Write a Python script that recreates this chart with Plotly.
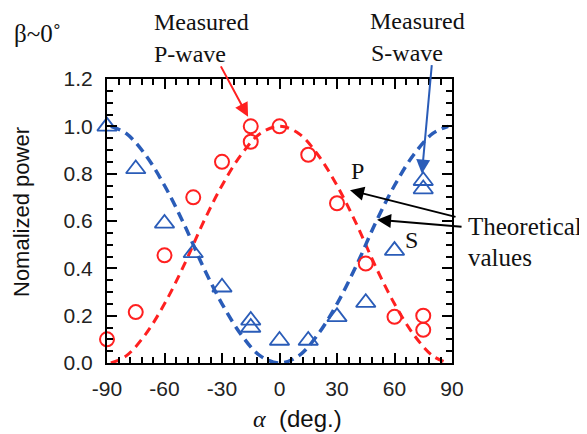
import plotly.graph_objects as go

# Measured P-wave (red circles)
p_alpha = [-90, -75, -60, -45, -30, -15, -15, 0, 15, 30, 45, 60, 75, 75]
p_power = [0.10, 0.215, 0.455, 0.70, 0.85, 1.0, 0.935, 1.0, 0.88, 0.675, 0.42, 0.195, 0.20, 0.14]

# Measured S-wave (blue triangles)
s_alpha = [-90, -75, -60, -45, -30, -15, -15, 0, 15, 30, 45, 60, 75, 75]
s_power = [1.0, 0.82, 0.59, 0.465, 0.32, 0.18, 0.15, 0.095, 0.095, 0.195, 0.255, 0.475, 0.77, 0.735]

# Theoretical curves
th_alpha = [-88, -80, -70, -60, -50, -40, -30, -20, -10, 0, 10, 20, 30, 40, 50, 60, 70, 80, 88]
th_p = [0.0, 0.03, 0.12, 0.25, 0.41, 0.59, 0.75, 0.88, 0.97, 1.0, 0.97, 0.88, 0.75, 0.59, 0.41, 0.25, 0.12, 0.03, 0.0]
th_s = [1.0, 0.97, 0.88, 0.75, 0.59, 0.41, 0.25, 0.12, 0.03, 0.0, 0.03, 0.12, 0.25, 0.41, 0.59, 0.75, 0.88, 0.97, 1.0]

x_ticks = [-90, -60, -30, 0, 30, 60, 90]
y_ticks = [0.0, 0.2, 0.4, 0.6, 0.8, 1.0, 1.2]

RED = "#ff2020"
BLUE = "#2a5cb8"
SERIF = "Liberation Serif, Times New Roman, serif"
SANS = "Liberation Sans, Arial, sans-serif"

fig = go.Figure()
fig.add_trace(go.Scatter(x=th_alpha, y=th_p, mode="lines", line=dict(color=RED, width=3, dash="9px,6px", shape="spline"),
                         showlegend=False, hoverinfo="skip"))
fig.add_trace(go.Scatter(x=th_alpha, y=th_s, mode="lines", line=dict(color=BLUE, width=3.5, dash="10px,6px", shape="spline"),
                         showlegend=False, hoverinfo="skip"))
fig.add_trace(go.Scatter(x=p_alpha, y=p_power, mode="markers",
                         marker=dict(symbol="circle-open", size=14, color=RED, line=dict(width=2, color=RED)),
                         showlegend=False, cliponaxis=False))
fig.add_trace(go.Scatter(x=s_alpha, y=s_power, mode="markers",
                         marker=dict(symbol="triangle-up-open", size=17, color=BLUE, line=dict(width=1.8, color=BLUE)),
                         showlegend=False, cliponaxis=False))

ax_common = dict(showline=True, linecolor="black", linewidth=2, mirror="ticks", ticks="inside",
                 tickcolor="black", tickwidth=2, ticklen=10, showgrid=False, zeroline=False,
                 tickfont=dict(family=SANS, size=21, color="#222"))

fig.update_xaxes(range=[-90, 90], tickvals=x_ticks, ticktext=[str(v) for v in x_ticks],
                 minor=dict(dtick=6, ticks="inside", ticklen=6, tickwidth=1.5, tickcolor="black", tick0=-90),
                 ticklabelstandoff=6, **ax_common)
fig.update_yaxes(range=[0, 1.2], tickvals=y_ticks, ticktext=[f"{v:.1f}" for v in y_ticks],
                 minor=dict(dtick=0.05, ticks="inside", ticklen=6, tickwidth=1.5, tickcolor="black", tick0=0),
                 ticklabelstandoff=8, **ax_common)

# page has an 8px body margin; positions below are in screenshot pixels
OFF = 8
def px_x(px):
    return (px - 107) / 345.0

def px_y(py):
    return (363 - py) / 284.0

ann = []
def txt(text, x, y, xanchor="left", size=24, family=SERIF, color="#111", angle=0):
    ann.append(dict(text=text, x=px_x(x), y=px_y(y), xref="paper", yref="paper", xanchor=xanchor,
                    yanchor="middle", showarrow=False, textangle=angle,
                    font=dict(family=family, size=size, color=color)))

txt("β~0˚", 37, 33, xanchor="center", size=25)
txt("Measured", 152, 22)
txt("P-wave", 152, 54)
txt("Measured", 368, 21)
txt("S-wave", 369, 53)
txt("P", 357, 171, xanchor="center", size=24)
txt("S", 411, 240, xanchor="center", size=24)
txt("Theoretical", 466, 226, size=25)
txt("values", 466, 257, size=25)
txt("<span style='font-family:Liberation Serif;font-style:italic'>α</span>  (deg.)", 297, 418,
    xanchor="center", size=24, family=SANS)
txt("Nomalized power", 21, 212, xanchor="center", size=22, family=SANS, angle=-90)

def arrow(hx, hy, tx, ty, color, width=2):
    ann.append(dict(x=hx, y=hy, xref="x", yref="y", ax=tx, ay=ty, axref="pixel", ayref="pixel",
                    text="", showarrow=True, arrowhead=2, arrowsize=1.4, arrowwidth=width,
                    arrowcolor=color, standoff=0))

arrow(-16.4, 1.04, -28, -52, RED)
arrow(74.3, 0.80, 10, -110, BLUE)
arrow(36.8, 0.73, 107, 27, "black")
arrow(50.9, 0.605, 86, 7, "black")

fig.update_layout(width=587 - OFF, height=434 - OFF, autosize=False, plot_bgcolor="white", paper_bgcolor="white",
                  margin=dict(l=107 - OFF, r=135, t=79 - OFF, b=71), annotations=ann, showlegend=False)

fig.write_html("out.html")
